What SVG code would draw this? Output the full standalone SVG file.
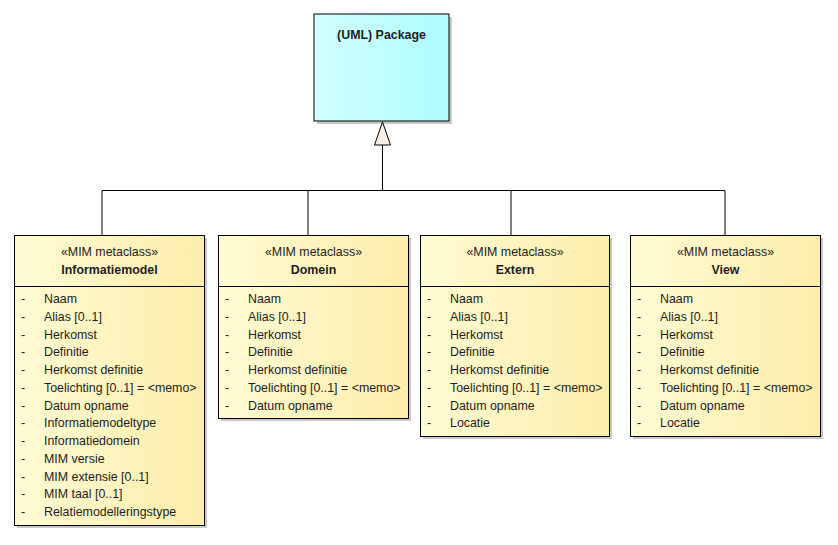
<svg xmlns="http://www.w3.org/2000/svg" width="838" height="545" viewBox="0 0 838 545">
<defs>
<linearGradient id="gy" x1="0" y1="0" x2="1" y2="0">
<stop offset="0" stop-color="#fffbd4"/>
<stop offset="1" stop-color="#fcedaa"/>
</linearGradient>
<linearGradient id="gc" x1="0" y1="0" x2="1" y2="0">
<stop offset="0" stop-color="#d2ffff"/>
<stop offset="1" stop-color="#adfcff"/>
</linearGradient>
</defs>
<style>
text{font-family:"Liberation Sans",Arial,sans-serif;font-size:12.4px;fill:#1e1e1e}
.b{font-weight:bold;text-anchor:middle}
.s{text-anchor:middle}
.box{stroke:#000;stroke-width:1}
.sh{fill:#c8c8c8}
.ln{stroke:#000;stroke-width:1;fill:none}
</style>
<g id="package">
<rect class="sh" x="317" y="17" width="135" height="107"/>
<rect class="box" x="314" y="14" width="135" height="107" fill="url(#gc)"/>
<text class="b" x="381.5" y="39">(UML) Package</text>
</g>
<g id="connectors">
<polyline class="ln" points="102,235 102,190.5 725,190.5 725,235"/>
<line class="ln" x1="308" y1="190.5" x2="308" y2="235"/>
<line class="ln" x1="511" y1="190.5" x2="511" y2="235"/>
<line class="ln" x1="382.5" y1="190.5" x2="382.5" y2="145"/>
<polygon points="382.5,122 374.5,145 390.5,145" fill="#fbeee8" stroke="#000" stroke-width="1"/>
</g>
<g id="informatiemodel">
<rect class="sh" x="17" y="238" width="190" height="290"/>
<rect class="box" x="14.5" y="235.5" width="190" height="290" fill="url(#gy)"/>
<line class="ln" x1="14.5" y1="286.5" x2="204.5" y2="286.5"/>
<text class="s" x="109.5" y="256">«MIM metaclass»</text>
<text class="b" x="109.5" y="274">Informatiemodel</text>
<g>
<text x="21" y="303">-</text><text x="44" y="303">Naam</text>
<text x="21" y="321">-</text><text x="44" y="321">Alias [0..1]</text>
<text x="21" y="339">-</text><text x="44" y="339">Herkomst</text>
<text x="21" y="356">-</text><text x="44" y="356">Definitie</text>
<text x="21" y="374">-</text><text x="44" y="374">Herkomst definitie</text>
<text x="21" y="392">-</text><text x="44" y="392">Toelichting [0..1] = &lt;memo&gt;</text>
<text x="21" y="410">-</text><text x="44" y="410">Datum opname</text>
<text x="21" y="427">-</text><text x="44" y="427">Informatiemodeltype</text>
<text x="21" y="445">-</text><text x="44" y="445">Informatiedomein</text>
<text x="21" y="463">-</text><text x="44" y="463">MIM versie</text>
<text x="21" y="481">-</text><text x="44" y="481">MIM extensie [0..1]</text>
<text x="21" y="498">-</text><text x="44" y="498">MIM taal [0..1]</text>
<text x="21" y="516">-</text><text x="44" y="516">Relatiemodelleringstype</text>
</g>
</g>
<g id="domein">
<rect class="sh" x="221" y="238" width="190" height="183"/>
<rect class="box" x="218.5" y="235.5" width="190" height="183" fill="url(#gy)"/>
<line class="ln" x1="218.5" y1="286.5" x2="408.5" y2="286.5"/>
<text class="s" x="313.5" y="256">«MIM metaclass»</text>
<text class="b" x="313.5" y="274">Domein</text>
<text x="225" y="303">-</text><text x="248" y="303">Naam</text>
<text x="225" y="321">-</text><text x="248" y="321">Alias [0..1]</text>
<text x="225" y="339">-</text><text x="248" y="339">Herkomst</text>
<text x="225" y="356">-</text><text x="248" y="356">Definitie</text>
<text x="225" y="374">-</text><text x="248" y="374">Herkomst definitie</text>
<text x="225" y="392">-</text><text x="248" y="392">Toelichting [0..1] = &lt;memo&gt;</text>
<text x="225" y="410">-</text><text x="248" y="410">Datum opname</text>
</g>
<g id="extern">
<rect class="sh" x="423" y="238" width="189" height="201"/>
<rect class="box" x="420.5" y="235.5" width="189" height="201" fill="url(#gy)"/>
<line class="ln" x1="420.5" y1="286.5" x2="609.5" y2="286.5"/>
<text class="s" x="515" y="256">«MIM metaclass»</text>
<text class="b" x="515" y="274">Extern</text>
<text x="427" y="303">-</text><text x="450" y="303">Naam</text>
<text x="427" y="321">-</text><text x="450" y="321">Alias [0..1]</text>
<text x="427" y="339">-</text><text x="450" y="339">Herkomst</text>
<text x="427" y="356">-</text><text x="450" y="356">Definitie</text>
<text x="427" y="374">-</text><text x="450" y="374">Herkomst definitie</text>
<text x="427" y="392">-</text><text x="450" y="392">Toelichting [0..1] = &lt;memo&gt;</text>
<text x="427" y="410">-</text><text x="450" y="410">Datum opname</text>
<text x="427" y="427">-</text><text x="450" y="427">Locatie</text>
</g>
<g id="view">
<rect class="sh" x="633" y="238" width="190" height="201"/>
<rect class="box" x="630.5" y="235.5" width="190" height="201" fill="url(#gy)"/>
<line class="ln" x1="630.5" y1="286.5" x2="820.5" y2="286.5"/>
<text class="s" x="725.5" y="256">«MIM metaclass»</text>
<text class="b" x="725.5" y="274">View</text>
<text x="637" y="303">-</text><text x="660" y="303">Naam</text>
<text x="637" y="321">-</text><text x="660" y="321">Alias [0..1]</text>
<text x="637" y="339">-</text><text x="660" y="339">Herkomst</text>
<text x="637" y="356">-</text><text x="660" y="356">Definitie</text>
<text x="637" y="374">-</text><text x="660" y="374">Herkomst definitie</text>
<text x="637" y="392">-</text><text x="660" y="392">Toelichting [0..1] = &lt;memo&gt;</text>
<text x="637" y="410">-</text><text x="660" y="410">Datum opname</text>
<text x="637" y="427">-</text><text x="660" y="427">Locatie</text>
</g>
</svg>
